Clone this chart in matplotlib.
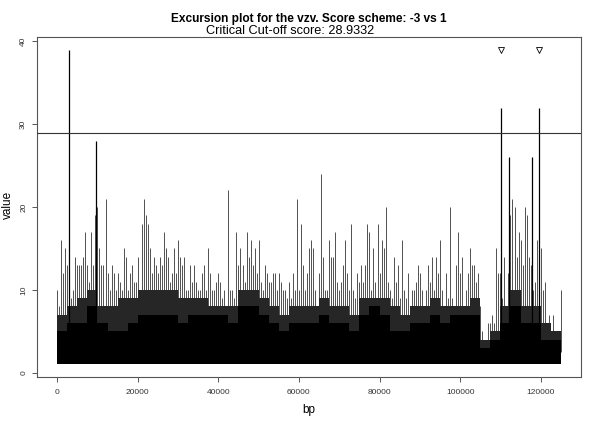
import numpy as np
import matplotlib
matplotlib.use("Agg")
import matplotlib.pyplot as plt

plt.rcParams['font.family'] = ['Liberation Sans', 'DejaVu Sans']

# column maxima read every 500 bp (the tall spikes are kept apart below)
step_bp = 500
top_val = [10, 8, 16, 12, 15, 13, 12, 9, 10, 14,
           13, 13, 13, 14, 17, 13, 11, 17, 13, 19,
           20, 15, 13, 13, 21, 12, 10, 13, 12, 10,
           12, 11, 10, 15, 14, 10, 12, 13, 11, 11,
           14, 10, 18, 21, 19, 18, 15, 12, 14, 13,
           12, 14,
           13, 17, 15, 14, 11, 12, 15, 12, 16, 14,
           13, 14, 10, 10, 13, 11, 13, 11, 10, 10,
           12, 13, 10, 15, 12, 10, 10, 11, 12, 11,
           9, 10, 8, 22, 10, 10, 9, 17, 13, 15,
           13, 11, 17, 14, 16, 13, 15, 12, 16, 11,
           10, 13, 12, 11,
           11, 12, 12, 10, 12, 11, 10, 10, 9, 11,
           9, 12, 10, 21, 10, 18, 13, 10, 12, 15,
           16, 15, 10, 8, 12, 24, 14, 10, 10, 16,
           14, 14, 17, 11, 10, 11, 13, 16, 12, 10,
           18, 10, 9, 12, 11, 13, 11, 13, 18, 17,
           10, 15, 11, 18,
           12, 16, 15, 20, 11, 10, 9, 14, 11, 13,
           9, 16, 10, 9, 12, 8, 10, 10, 11, 13,
           12, 10, 8, 10, 13, 11, 14, 10, 14, 12,
           16, 10, 8, 12, 9, 20, 9, 8, 13, 17,
           12, 14, 8, 10, 12, 15, 13, 13, 11, 12,
           8, 5, 4, 4, 6,
           6, 7, 6, 15, 12, 12, 9, 14, 8, 12,
           19, 21, 20, 14, 17, 16, 13, 20, 19, 14,
           13, 10, 11, 16, 14, 15, 10, 11, 6, 7,
           5, 7, 5, 4, 4, 10]

# solid black floor and the dense band above it, every 2500 bp
block_bp = 2500
floor_val = [5, 6, 6, 8, 6, 5, 5, 6, 7, 7, 7, 7, 6, 7, 7, 7, 7, 6, 8, 8,
             7, 6, 5, 6, 6, 6, 7, 6, 6, 5, 7, 8, 7, 5, 5, 6, 6, 7, 6, 7,
             7, 7, 3, 4, 6, 8, 6, 6, 4, 4]
band_val = [7, 8, 9, 10, 8, 8, 9, 9, 10, 10, 10, 10, 9, 9, 9, 8, 8, 8, 10, 10,
            9, 8, 7, 8, 8, 8, 9, 8, 8, 7, 9, 9, 9, 8, 7, 8, 8, 9, 8, 8,
            8, 9, 4, 5, 8, 10, 8, 8, 6, 5]

peak_bp = [2900, 9600, 110200, 112200, 117800, 119700]
peak_val = [39, 28, 32, 26, 26, 32]
sig_bp = [110200, 119700]
sig_y = 39
cutoff = 28.9332
base = 1

fig = plt.figure(figsize=(6, 4.24), dpi=100)
ax = fig.add_axes([37/600, 1-377/424, 544/600, 340/424])

# thin lines start inside the black floor so only the floor's edge shows at the bottom
top_bp = np.arange(len(top_val)) * step_bp
ax.vlines(top_bp, base + 1.5, top_val, colors='#505050', lw=0.7, zorder=1)
edges = np.arange(len(floor_val) + 1) * block_bp
ax.fill_between(edges, base, band_val + [band_val[-1]], step='post', color='#262626', lw=0, zorder=2)
ax.fill_between(edges, base, floor_val + [floor_val[-1]], step='post', color='black', lw=0, zorder=3)
ax.vlines(peak_bp, base + 1.5, peak_val, colors='black', lw=0.9, zorder=4)
ax.axhline(cutoff, color='#333333', lw=0.8, zorder=5)
ax.plot(sig_bp, [sig_y]*len(sig_bp), 'v', mfc='none', mec='black', ms=4, mew=0.6)

ax.set_xlim(-5000, 130000)
ax.set_ylim(-0.52, 40.52)
ax.set_xticks(range(0, 120001, 20000))
ax.set_yticks(range(0, 41, 10))
ax.set_yticklabels([str(v) for v in range(0, 41, 10)], rotation=90, va='center')
ax.tick_params(direction='out', length=3.6, width=0.7, color='#555555',
               labelsize=6, labelcolor='#333333')
ax.tick_params(axis='x', pad=5)
ax.tick_params(axis='y', pad=3.5)
for s in ax.spines.values():
    s.set_color('#555555')
    s.set_linewidth(0.8)

fig.text(308.8/600, 1-19/424, 'Excursion plot for the vzv. Score scheme: -3 vs 1',
         ha='center', va='center', fontsize=8.6, fontweight='bold')
fig.text(290/600, 1-31.5/424, 'Critical Cut-off score: 28.9332',
         ha='center', va='center', fontsize=9.2)
fig.text(309/600, 1-410/424, 'bp', ha='center', va='center', fontsize=8.5)
fig.text(8/600, 1-205/424, 'value', ha='center', va='center', fontsize=8.5, rotation=90)

fig.savefig('out.png', dpi=100)
